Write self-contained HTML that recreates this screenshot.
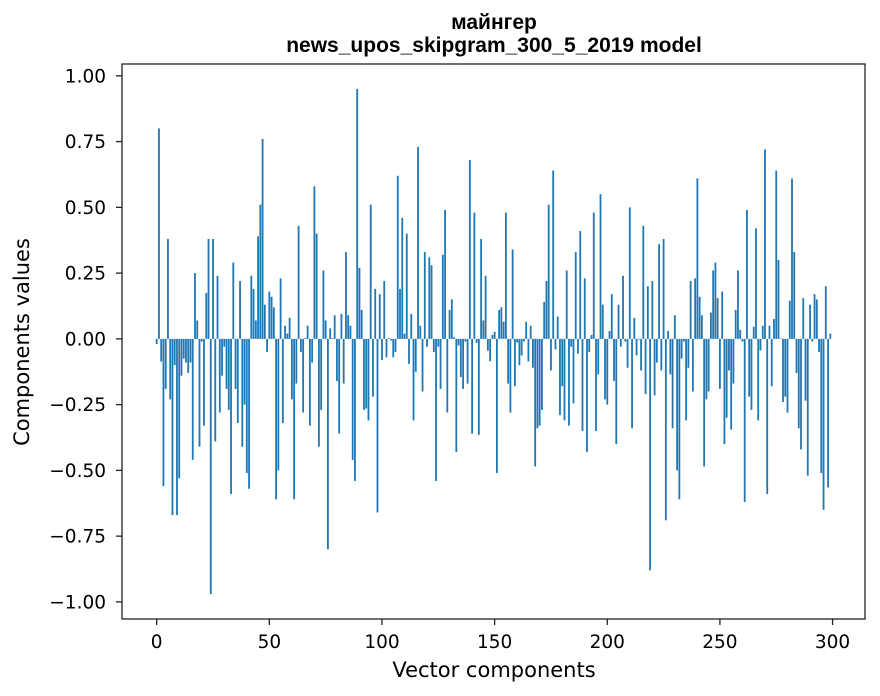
<!DOCTYPE html>
<html><head><meta charset="utf-8"><style>
body{margin:0;background:#fff;}
svg{display:block;font-family:"DejaVu Sans","Liberation Sans",sans-serif;}
</style></head><body>
<svg id="chart" width="880" height="696">
<text x="494" y="29" text-anchor="middle" font-size="21" font-weight="bold" style="font-family:'Liberation Sans',sans-serif">майнгер</text>
<text x="494" y="52" text-anchor="middle" font-size="21" font-weight="bold" style="font-family:'Liberation Sans',sans-serif">news_upos_skipgram_300_5_2019 model</text>
<text x="494" y="677" text-anchor="middle" font-size="21">Vector components</text>
<text transform="translate(29,342) rotate(-90)" text-anchor="middle" font-size="21">Components values</text>
<g id="bars"></g>
<g id="axes"></g>
</svg>
<script>
const categories = Array.from({length:300},(_,i)=>i);
const values = [
-0.02,0.80,-0.086,-0.56,-0.19,0.38,-0.23,-0.67,-0.10,-0.67,
-0.53,-0.14,-0.075,-0.09,-0.13,-0.09,-0.46,0.25,0.07,-0.41,
-0.01,-0.33,0.175,0.38,-0.97,0.38,-0.39,0.24,-0.28,-0.14,
-0.03,-0.19,-0.27,-0.59,0.29,-0.19,-0.32,0.22,-0.41,-0.25,
-0.51,-0.57,0.24,0.19,0.07,0.39,0.51,0.76,0.13,-0.05,
0.18,0.16,0.12,-0.61,-0.50,0.23,-0.32,0.05,0.02,0.08,
-0.23,-0.61,-0.17,0.43,-0.05,-0.28,0.004,0.05,-0.33,-0.09,
0.58,0.40,-0.41,-0.27,0.26,0.07,-0.80,0.04,0.003,0.09,
-0.16,-0.36,0.095,-0.17,0.33,0.09,0.05,-0.46,-0.54,0.95,
0.27,0.11,-0.27,-0.265,-0.31,0.51,-0.22,0.19,-0.66,0.17,
-0.08,0.22,-0.07,0.003,-0.006,-0.07,-0.05,0.62,0.19,0.46,
0.02,0.40,-0.095,0.095,-0.31,-0.125,0.73,0.05,-0.20,0.33,
-0.03,0.31,0.28,-0.05,-0.54,-0.03,-0.19,0.32,0.49,-0.28,
0.11,0.15,0.006,-0.43,-0.025,-0.145,-0.19,-0.01,-0.17,0.68,
-0.36,0.48,-0.015,-0.365,0.38,0.07,0.24,-0.045,-0.085,0.015,
0.027,-0.51,0.11,0.12,0.065,0.48,-0.17,-0.28,0.34,-0.18,
-0.014,-0.10,-0.063,-0.01,0.065,-0.086,0.05,-0.11,-0.485,-0.34,
-0.33,-0.27,0.14,0.22,0.51,-0.12,0.64,-0.04,0.085,-0.29,
-0.18,-0.31,0.26,-0.33,-0.03,-0.245,0.33,-0.056,0.41,-0.35,
0.23,-0.43,-0.05,0.015,0.48,-0.35,-0.135,0.55,0.13,-0.23,
-0.25,0.03,0.17,-0.16,-0.40,0.13,-0.03,0.24,-0.01,-0.11,
0.50,-0.34,0.08,-0.063,-0.003,-0.12,0.43,-0.21,0.20,-0.88,
0.22,-0.215,-0.09,0.36,-0.12,0.38,-0.69,0.03,-0.135,-0.34,
0.09,-0.50,-0.61,-0.075,-0.01,-0.31,-0.11,0.22,-0.20,0.23,
0.61,0.16,0.09,-0.485,-0.23,-0.20,0.10,0.26,0.29,0.155,
-0.19,0.18,-0.40,-0.30,-0.12,-0.345,-0.17,0.11,0.26,0.034,
-0.01,-0.62,0.49,-0.22,-0.27,0.046,0.42,-0.31,-0.044,0.05,
0.72,-0.59,0.05,-0.18,0.076,0.64,0.30,0.002,-0.24,-0.22,
-0.28,0.145,0.61,0.33,-0.13,-0.34,-0.42,0.155,-0.235,-0.52,
0.13,-0.01,0.17,0.15,-0.05,-0.51,-0.65,0.20,-0.565,0.02
];
const yTicks = [-1.00,-0.75,-0.50,-0.25,0.00,0.25,0.50,0.75,1.00];
const xTicks = [0,50,100,150,200,250,300];

const L=122,R=865,T=64,B=619;
const xMin=-15.4,xMax=314.4,yMin=-1.065,yMax=1.045;
const xs=v=>L+(v-xMin)/(xMax-xMin)*(R-L);
const ys=v=>T+(yMax-v)/(yMax-yMin)*(B-T);
const NS="http://www.w3.org/2000/svg";
const bars=document.getElementById('bars');
const axes=document.getElementById('axes');
const bw=0.8;
categories.forEach((c,i)=>{
  const v=values[i];
  const r=document.createElementNS(NS,'rect');
  const x0=xs(c-bw/2),x1=xs(c+bw/2);
  const y0=ys(Math.max(v,0)),y1=ys(Math.min(v,0));
  r.setAttribute('x',x0);r.setAttribute('width',x1-x0);
  r.setAttribute('y',y0);r.setAttribute('height',Math.max(y1-y0,0.01));
  r.setAttribute('fill','#1f77b4');
  
  
  bars.appendChild(r);
});
const frame=document.createElementNS(NS,'rect');
frame.setAttribute('x',L);frame.setAttribute('y',T);
frame.setAttribute('width',R-L);frame.setAttribute('height',B-T);
frame.setAttribute('fill','none');frame.setAttribute('stroke','#222');frame.setAttribute('stroke-width','1.3');


axes.appendChild(frame);
yTicks.forEach(t=>{
  const y=ys(t);
  const l=document.createElementNS(NS,'line');
  l.setAttribute('x1',L-6);l.setAttribute('x2',L);l.setAttribute('y1',y);l.setAttribute('y2',y);
  l.setAttribute('stroke','#222');l.setAttribute('stroke-width','1.3');
  
  
  axes.appendChild(l);
  const tx=document.createElementNS(NS,'text');
  tx.setAttribute('x',L-16);tx.setAttribute('y',y+6.5);tx.setAttribute('text-anchor','end');tx.setAttribute('font-size','18.5');
  tx.textContent=(t<0?'\u2212':'')+Math.abs(t).toFixed(2);
  
  
  axes.appendChild(tx);
});
xTicks.forEach(t=>{
  const x=xs(t);
  const l=document.createElementNS(NS,'line');
  l.setAttribute('x1',x);l.setAttribute('x2',x);l.setAttribute('y1',B);l.setAttribute('y2',B+6);
  l.setAttribute('stroke','#222');l.setAttribute('stroke-width','1.3');
  
  
  axes.appendChild(l);
  const tx=document.createElementNS(NS,'text');
  tx.setAttribute('x',x);tx.setAttribute('y',B+29);tx.setAttribute('text-anchor','middle');tx.setAttribute('font-size','18.5');
  tx.textContent=t;
  
  
  axes.appendChild(tx);
});
</script>
</body></html>
